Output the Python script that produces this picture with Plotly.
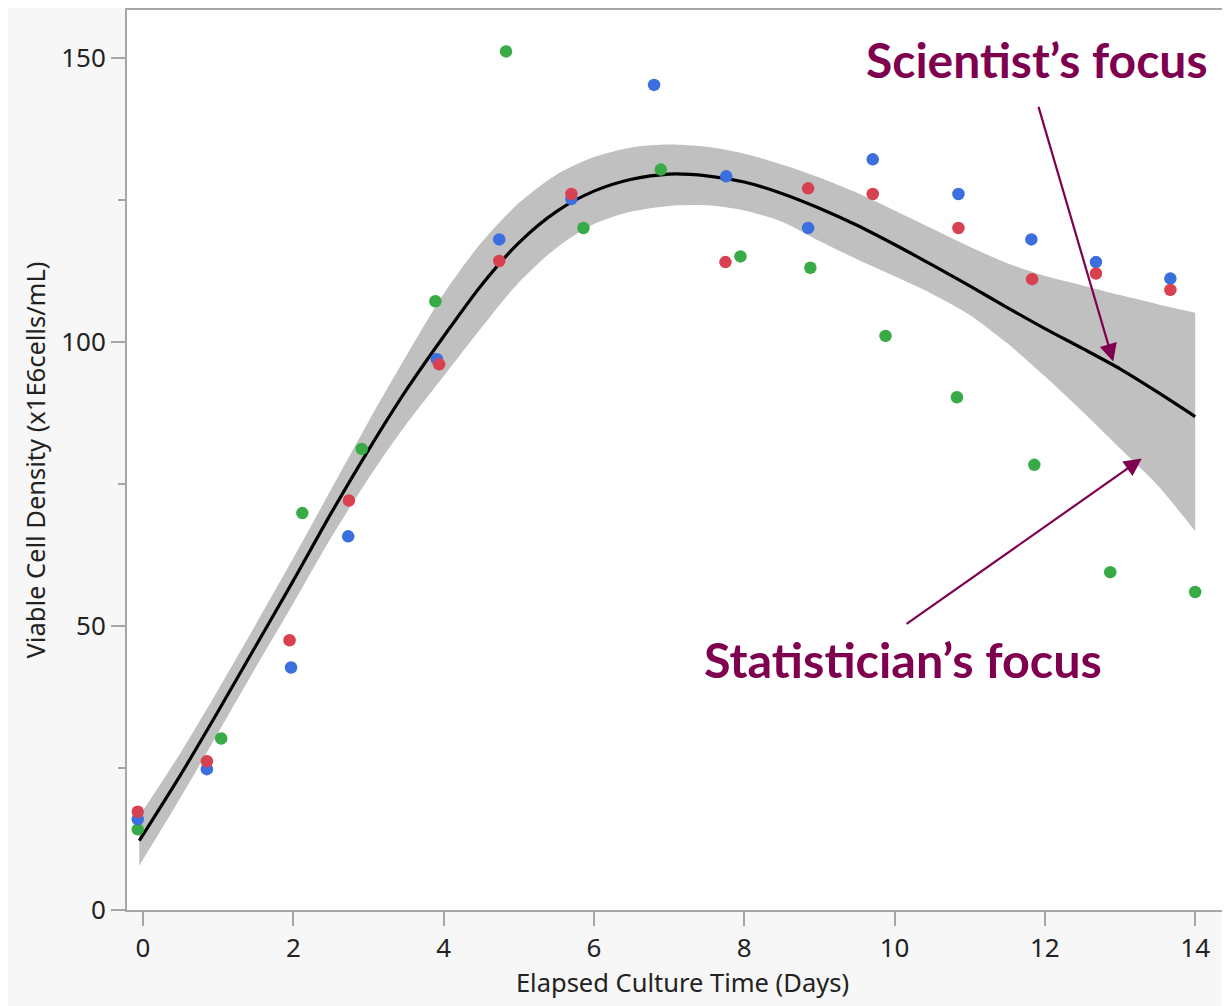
import plotly.graph_objects as go

# ---- data ----
blue_day = [-0.07, 0.85, 1.97, 2.73, 3.91, 4.74, 5.70, 6.80, 7.76, 8.85, 9.71, 10.85, 11.82, 12.68, 13.67]
blue_vcd = [16.0, 24.8, 42.7, 65.8, 97.0, 118.1, 125.2, 145.3, 129.2, 120.1, 132.2, 126.1, 118.1, 114.1, 111.2]

red_day = [-0.07, 0.85, 1.95, 2.74, 3.94, 4.74, 5.70, 7.75, 8.85, 9.71, 10.85, 11.83, 12.68, 13.67]
red_vcd = [17.3, 26.2, 47.5, 72.1, 96.1, 114.3, 126.1, 114.1, 127.1, 126.1, 120.1, 111.1, 112.1, 109.2]

green_day = [-0.07, 1.04, 2.12, 2.91, 3.89, 4.83, 5.86, 6.89, 7.95, 8.88, 9.88, 10.83, 11.86, 12.87, 14.0]
green_vcd = [14.2, 30.2, 69.9, 81.2, 107.2, 151.2, 120.1, 130.4, 115.1, 113.1, 101.1, 90.3, 78.4, 59.5, 56.0]

fit_day = [-0.05, 0.5, 1.0, 1.5, 2.0, 2.5, 3.0, 3.5, 4.0, 4.5, 5.0, 5.5, 6.0, 6.5, 7.0,
           7.5, 8.0, 8.5, 9.0, 9.5, 10.0, 10.5, 11.0, 11.5, 12.0, 12.5, 13.0, 13.5, 14.0]
fit_vcd = [12.2, 23.8, 35.0, 46.5, 58.0, 69.8, 81.0, 91.5, 101.0, 110.0, 117.5, 123.0, 126.6, 128.7, 129.6,
           129.3, 128.2, 126.2, 123.6, 120.6, 117.2, 113.6, 109.9, 106.1, 102.4, 98.9, 95.3, 91.2, 86.9]
ci_upper = [16.5, 27.7, 38.8, 50.3, 62.0, 74.0, 86.0, 97.5, 108.5, 117.5, 124.5, 129.5, 132.6, 134.3, 134.8,
            134.4, 133.2, 131.3, 129.0, 126.3, 123.2, 120.0, 116.8, 113.9, 111.7, 110.0, 108.3, 106.7, 105.2]
ci_lower = [7.8, 19.8, 31.2, 42.7, 54.0, 65.5, 76.0, 85.5, 94.0, 102.5, 110.5, 116.6, 120.8, 123.0, 124.0,
            124.1, 123.2, 121.2, 117.8, 114.6, 111.6, 108.5, 104.8, 99.8, 94.0, 87.8, 81.3, 74.8, 66.7]

x_ticks = [0, 2, 4, 6, 8, 10, 12, 14]
y_ticks = [0, 50, 100, 150]

ACC = "#800050"
AXC = "#a6a6a6"
FONT = "Noto Sans"

fig = go.Figure()

# confidence band (lower edge, then upper edge filled down to it)
fig.add_trace(go.Scatter(x=fit_day, y=ci_lower, mode="lines",
                         line=dict(width=0, color="#c0c0c0", shape="spline", smoothing=0.8),
                         hoverinfo="skip", showlegend=False))
fig.add_trace(go.Scatter(x=fit_day, y=ci_upper, mode="lines", fill="tonexty", fillcolor="#c0c0c0",
                         line=dict(width=0, color="#c0c0c0", shape="spline", smoothing=0.8),
                         hoverinfo="skip", showlegend=False))
# fit line
fig.add_trace(go.Scatter(x=fit_day, y=fit_vcd, mode="lines",
                         line=dict(color="black", width=3.2, shape="spline", smoothing=0.8),
                         showlegend=False))

for d, v, c in [(green_day, green_vcd, "#39ab46"), (blue_day, blue_vcd, "#3b6fe0"), (red_day, red_vcd, "#d8414f")]:
    fig.add_trace(go.Scatter(x=d, y=v, mode="markers",
                             marker=dict(color=c, size=12.5, line=dict(width=0)), showlegend=False))

# annotations
fig.add_annotation(x=11.89, y=149.8, xref="x", yref="y", text="<b>Scientist’s focus</b>",
                   showarrow=False, font=dict(family="Lato", size=48, color=ACC))
fig.add_annotation(x=10.11, y=44.2, xref="x", yref="y", text="<b>Statistician’s focus</b>",
                   showarrow=False, font=dict(family="Lato", size=48.5, color=ACC))
fig.add_annotation(x=12.91, y=96.6, ax=11.91, ay=141.7, xref="x", yref="y", axref="x", ayref="y",
                   text="", showarrow=True, arrowhead=2, arrowsize=1.6, arrowwidth=2.2, arrowcolor=ACC)
fig.add_annotation(x=13.29, y=79.5, ax=10.14, ay=50.2, xref="x", yref="y", axref="x", ayref="y",
                   text="", showarrow=True, arrowhead=2, arrowsize=1.6, arrowwidth=2.2, arrowcolor=ACC)

fig.update_layout(
    width=1230, height=999,
    margin=dict(l=119, r=0, t=0, b=97),
    paper_bgcolor="#f7f7f7", plot_bgcolor="white",
    font=dict(family=FONT, size=26, color="#222222"),
    showlegend=False,
)
fig.update_xaxes(range=[-0.213, 14.57], tickvals=x_ticks, ticks="outside", ticklen=14,
                 tickwidth=1.5, tickcolor=AXC, showline=True, linecolor=AXC, linewidth=2,
                 mirror=True, showgrid=False, zeroline=False, tickfont=dict(size=26),
                 title=dict(text="Elapsed Culture Time (Days)", standoff=6, font=dict(size=25.5)))
fig.update_yaxes(range=[0, 158.5], tickvals=y_ticks, ticks="outside", ticklen=14,
                 tickwidth=1.5, tickcolor=AXC, showline=True, linecolor=AXC, linewidth=2,
                 showgrid=False, zeroline=False, tickfont=dict(size=26),
                 minor=dict(dtick=25, ticks="outside", ticklen=7, tickwidth=1.5, tickcolor=AXC, showgrid=False),
                 title=dict(text="Viable Cell Density (x1E6cells/mL)", standoff=8, font=dict(size=25.5)))

fig.write_html("out.html")
